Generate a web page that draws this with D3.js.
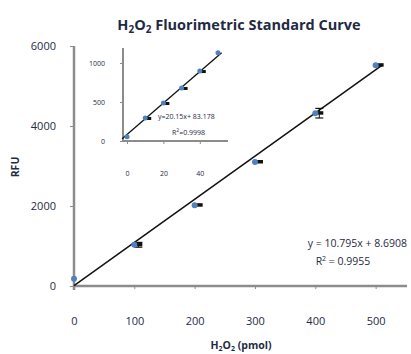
<!DOCTYPE html>
<html>
<head>
<meta charset="utf-8">
<script src="https://cdn.jsdelivr.net/npm/d3@7"></script>
<style>
  body { margin: 0; background: #fff; }
  text { font-family: "Open Sans", sans-serif; }
</style>
</head>
<body>
<div id="chart"></div>
<script>
// main standard curve
const amounts = [0, 100, 200, 300, 400, 500];
const rfu = [180, 1030, 2020, 3100, 4320, 5520];
const rfuErr = [0, 60, 0, 0, 120, 0];
const xTicks = [0, 100, 200, 300, 400, 500];
const yTicks = [0, 2000, 4000, 6000];
const fit = { slope: 10.795, icpt: 8.6908, from: 0, to: 512 };

// low range inset
const insetAmounts = [0, 10, 20, 30, 40, 50];
const insetRfu = [55, 295, 487, 680, 897, 1130];
const insetXTicks = [0, 20, 40];
const insetYTicks = [0, 500, 1000];
const insetFit = { slope: 20.15, icpt: 83.178, from: -2.7, to: 52 };

const W = 411, H = 354;
const axisCol = '#8c8c8c', txtCol = '#1f2a44', blue = '#4f81bd';
const fmt = d3.format('d');

const svg = d3.select('#chart').append('svg')
  .attr('width', W).attr('height', H);

const x = d3.scaleLinear().domain([0, 552]).range([74, 407]);
const y = d3.scaleLinear().domain([0, 6000]).range([286, 46]);

// title
const title = svg.append('text')
  .attr('x', 239).attr('y', 30)
  .attr('text-anchor', 'middle')
  .attr('font-size', 14.5).attr('font-weight', 'bold')
  .attr('fill', txtCol);
title.append('tspan').text('H');
title.append('tspan').text('2').attr('font-size', 10).attr('dy', 3);
title.append('tspan').text('O').attr('dy', -3);
title.append('tspan').text('2').attr('font-size', 10).attr('dy', 3);
title.append('tspan').text(' Fluorimetric Standard Curve').attr('dy', -3);

// axes
const xAxis = svg.append('g')
  .attr('transform', 'translate(0,286)')
  .call(d3.axisBottom(x).tickValues(xTicks).tickFormat(fmt).tickSize(3).tickSizeOuter(0));
xAxis.selectAll('text').attr('y', 31).attr('font-size', 11).attr('fill', txtCol);

const yAxis = svg.append('g')
  .attr('transform', 'translate(74,0)')
  .call(d3.axisLeft(y).tickValues(yTicks).tickFormat(fmt).tickSize(4).tickSizeOuter(0).tickPadding(14));
yAxis.selectAll('text').attr('font-size', 11).attr('fill', txtCol);

[xAxis, yAxis].forEach(g => {
  g.select('.domain').remove();
  g.selectAll('line').attr('stroke', axisCol);
});
svg.append('line').attr('x1', 74).attr('x2', 407).attr('y1', 286).attr('y2', 286)
  .attr('stroke', axisCol).attr('stroke-width', 2.5);
svg.append('line').attr('x1', 74).attr('x2', 74).attr('y1', 46).attr('y2', 290)
  .attr('stroke', axisCol).attr('stroke-width', 2.5);

// axis titles
const xt = svg.append('text')
  .attr('x', 241).attr('y', 349)
  .attr('text-anchor', 'middle')
  .attr('font-size', 10.5).attr('font-weight', 'bold').attr('fill', txtCol);
xt.append('tspan').text('H');
xt.append('tspan').text('2').attr('font-size', 7).attr('dy', 2);
xt.append('tspan').text('O').attr('dy', -2);
xt.append('tspan').text('2').attr('font-size', 7).attr('dy', 2);
xt.append('tspan').text(' (pmol)').attr('dy', -2);

svg.append('text')
  .attr('transform', 'translate(19,167) rotate(-90)')
  .attr('text-anchor', 'middle')
  .attr('font-size', 10.5).attr('font-weight', 'bold').attr('fill', txtCol)
  .text('RFU');

// trendline
svg.append('line')
  .attr('x1', x(fit.from)).attr('y1', y(fit.slope * fit.from + fit.icpt))
  .attr('x2', x(fit.to)).attr('y2', y(fit.slope * fit.to + fit.icpt))
  .attr('stroke', '#111').attr('stroke-width', 1.5);

// error bars + black marks
amounts.forEach((a, i) => {
  const cx = x(a) + 4, cy = y(rfu[i]);
  if (rfuErr[i] > 0) {
    const t = y(rfu[i] + rfuErr[i]), b = y(rfu[i] - rfuErr[i]);
    svg.append('line').attr('x1', cx).attr('x2', cx).attr('y1', t).attr('y2', b)
      .attr('stroke', '#111').attr('stroke-width', 1);
    [t, b].forEach(v => svg.append('line').attr('x1', cx - 4).attr('x2', cx + 4)
      .attr('y1', v).attr('y2', v).attr('stroke', '#111').attr('stroke-width', 1.2));
  }
  if (i > 0) {
    svg.append('rect').attr('x', x(a) + 2).attr('y', cy - 2)
      .attr('width', 6).attr('height', 3.5).attr('fill', '#111');
  }
});

svg.append('g').selectAll('circle')
  .data(amounts)
  .join('circle')
  .attr('cx', d => x(d))
  .attr('cy', (d, i) => y(rfu[i]))
  .attr('r', 3)
  .attr('fill', blue);

// fit equation
svg.append('text')
  .attr('x', 407).attr('y', 247)
  .attr('text-anchor', 'end')
  .attr('font-size', 10.5).attr('fill', txtCol)
  .text('y = 10.795x + 8.6908');
const r2 = svg.append('text')
  .attr('x', 343).attr('y', 265)
  .attr('text-anchor', 'middle')
  .attr('font-size', 10.5).attr('fill', txtCol);
r2.append('tspan').text('R');
r2.append('tspan').text('2').attr('font-size', 7).attr('dy', -4);
r2.append('tspan').text(' = 0.9955').attr('dy', 4);

// ---- inset ----
const ix = d3.scaleLinear().domain([-2.2, 55.5]).range([123, 228]);
const iy = d3.scaleLinear().domain([0, 1000]).range([141, 63]);

const ixAxis = svg.append('g')
  .attr('transform', 'translate(0,141)')
  .call(d3.axisBottom(ix).tickValues(insetXTicks).tickFormat(fmt).tickSize(3).tickSizeOuter(0));
ixAxis.selectAll('text').attr('y', 30).attr('font-size', 7).attr('fill', txtCol);

const iyAxis = svg.append('g')
  .attr('transform', 'translate(123,0)')
  .call(d3.axisLeft(iy).tickValues(insetYTicks).tickFormat(fmt).tickSize(3).tickSizeOuter(0).tickPadding(15));
iyAxis.selectAll('text').attr('font-size', 7).attr('fill', txtCol);

[ixAxis, iyAxis].forEach(g => {
  g.select('.domain').remove();
  g.selectAll('line').attr('stroke', axisCol);
});
svg.append('line').attr('x1', 123).attr('x2', 228).attr('y1', 141).attr('y2', 141)
  .attr('stroke', axisCol).attr('stroke-width', 2);
svg.append('line').attr('x1', 123).attr('x2', 123).attr('y1', 48).attr('y2', 141)
  .attr('stroke', axisCol).attr('stroke-width', 2);

svg.append('line')
  .attr('x1', ix(insetFit.from)).attr('y1', iy(insetFit.slope * insetFit.from + insetFit.icpt))
  .attr('x2', ix(insetFit.to)).attr('y2', iy(insetFit.slope * insetFit.to + insetFit.icpt))
  .attr('stroke', '#111').attr('stroke-width', 1.3);

insetAmounts.forEach((a, i) => {
  if (i === 0 || i === insetAmounts.length - 1) return;
  svg.append('rect').attr('x', ix(a) + 1).attr('y', iy(insetRfu[i]) - 1)
    .attr('width', 5).attr('height', 3).attr('fill', '#111');
});

svg.append('g').selectAll('circle')
  .data(insetAmounts)
  .join('circle')
  .attr('cx', d => ix(d))
  .attr('cy', (d, i) => iy(insetRfu[i]))
  .attr('r', 2.5)
  .attr('fill', blue);

svg.append('text')
  .attr('x', 158).attr('y', 119)
  .attr('font-size', 7).attr('fill', txtCol)
  .text('y=20.15x+ 83.178');
const ir2 = svg.append('text')
  .attr('x', 172).attr('y', 135)
  .attr('font-size', 7).attr('fill', txtCol);
ir2.append('tspan').text('R');
ir2.append('tspan').text('2').attr('font-size', 5).attr('dy', -3);
ir2.append('tspan').text('=0.9998').attr('dy', 3);
</script>
</body>
</html>
